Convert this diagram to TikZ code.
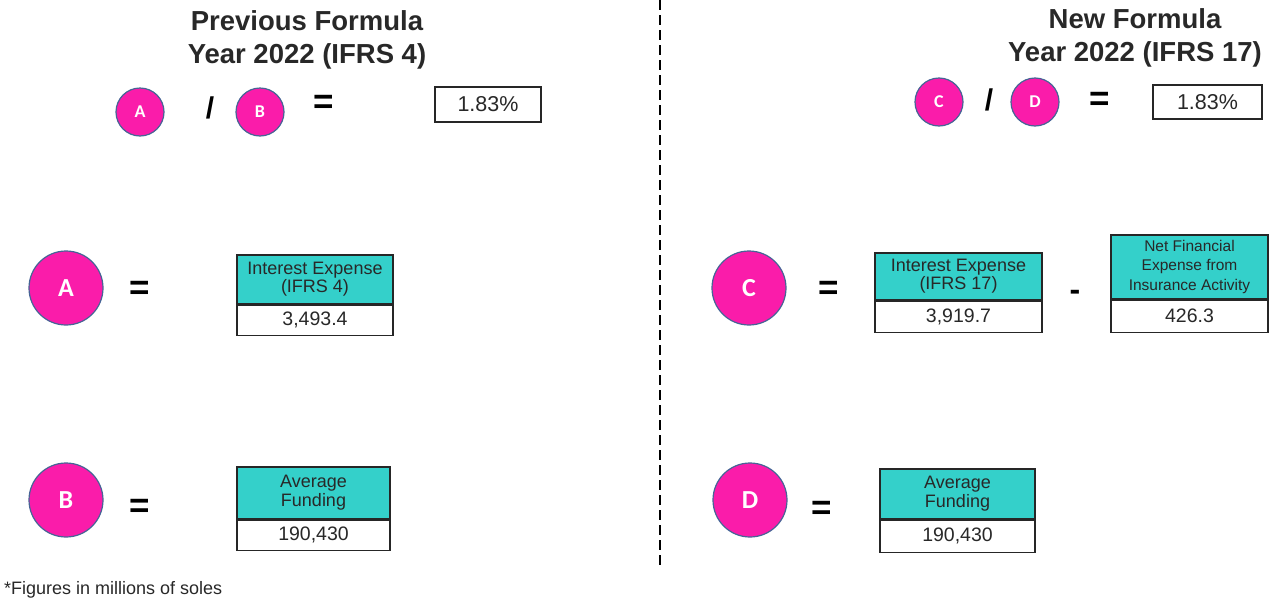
\documentclass[tikz,border=0pt]{standalone}
\usepackage{fontspec}
\setmainfont{Liberation Sans}
\newfontfamily\carl{Carlito}
\definecolor{pinkc}{RGB}{250,28,170}
\definecolor{bordc}{RGB}{70,100,150}
\definecolor{tealc}{RGB}{52,208,202}
\definecolor{txtc}{RGB}{40,40,40}
\tikzset{
  circbase/.style={circle, fill=pinkc, draw=bordc, line width=1.2pt, text=white, inner sep=0pt},
  bigc/.style={circbase, minimum size=74pt, font=\carl\bfseries\fontsize{26}{28}\selectfont},
  smallc/.style={circbase, minimum size=48pt, font=\carl\bfseries\fontsize{18}{20}\selectfont},
  eqsign/.style={font=\bfseries\fontsize{35}{36}\selectfont, inner sep=0pt},
  slash/.style={font=\bfseries\fontsize{30}{32}\selectfont, inner sep=0pt},
  title/.style={font=\bfseries\fontsize{27.5}{33}\selectfont, align=center, text=txtc},
  hdr/.style={rectangle, fill=tealc, draw=black!85, line width=1.5pt, align=center, inner sep=0pt, text=txtc, anchor=north},
  val/.style={rectangle, fill=white, draw=black!85, line width=1.5pt, inner sep=0pt, text=txtc, anchor=north, font=\fontsize{19.5}{21}\selectfont},
  pct/.style={rectangle, draw=black!85, line width=1.3pt, inner sep=0pt, text=txtc, font=\fontsize{21.5}{23}\selectfont},
}
\begin{document}
\begin{tikzpicture}[x=1pt,y=-1pt]
\useasboundingbox (0,0) rectangle (1270,600);
\fill[white] (0,0) rectangle (1270,600);
% divider
\coordinate (dtop) at (660,0);
\coordinate (dbot) at (660,565);
\draw[line width=2pt, dash pattern=on 10pt off 5pt] (dtop) -- (dbot);

% ---- left side
\node[title] (tl) at (307,40) {Previous Formula\\Year 2022 (IFRS 4)};
\node[smallc] (sa) at (140,112) {A};
\node[slash] (sl1) at (210,108) {/};
\node[smallc] (sb) at (260,112) {B};
\node[eqsign] (e1) at (324,104) {=};
\node[pct, minimum width=106pt, minimum height=35pt] (p1) at (488,104.5) {1.83\%};

\node[bigc] (ba) at (66,288) {A};
\node[eqsign] (e2) at (140,290) {=};
\node[hdr, minimum width=156pt, minimum height=49pt, font=\fontsize{18}{18}\selectfont] (ha) at (315,254) {Interest Expense\\(IFRS 4)};
\node[val, minimum width=156pt, minimum height=30pt] (va) at (ha.south) {3,493.4};

\node[bigc] (bb) at (66,500) {B};
\node[eqsign] (e3) at (140,508) {=};
\node[hdr, minimum width=153pt, minimum height=52pt, font=\fontsize{18}{19.5}\selectfont] (hb) at (313.5,466) {Average\\Funding};
\node[val, minimum width=153pt, minimum height=30pt] (vb) at (hb.south) {190,430};

\node[anchor=west, inner sep=0pt, text=txtc, font=\fontsize{18}{20}\selectfont] (fn) at (4,590) {*Figures in millions of soles};

% ---- right side
\node[title] (tr) at (1135,38) {New Formula\\Year 2022 (IFRS 17)};
\node[smallc] (sc) at (939,102) {C};
\node[slash] (sl2) at (989,100) {/};
\node[smallc] (sd) at (1035,102) {D};
\node[eqsign] (e4) at (1100,101) {=};
\node[pct, minimum width=109pt, minimum height=34pt] (p2) at (1207.5,102) {1.83\%};

\node[bigc] (bc) at (749,288) {C};
\node[eqsign] (e5) at (829,290) {=};
\node[hdr, minimum width=167pt, minimum height=47pt, font=\fontsize{18}{18}\selectfont] (hc) at (958.5,252) {Interest Expense\\(IFRS 17)};
\node[val, minimum width=167pt, minimum height=31pt] (vc) at (hc.south) {3,919.7};
\node[font=\bfseries\fontsize{32}{34}\selectfont, inner sep=0pt] (mi) at (1075,295) {-};
\node[hdr, minimum width=157pt, minimum height=64pt, font=\fontsize{15.5}{19.5}\selectfont] (hn) at (1189.5,234) {Net Financial\\Expense from\\Insurance Activity};
\node[val, minimum width=157pt, minimum height=32pt] (vn) at (hn.south) {426.3};

\node[bigc] (bd) at (750,500) {D};
\node[eqsign] (e6) at (822,510) {=};
\node[hdr, minimum width=155pt, minimum height=50pt, font=\fontsize{18}{19.5}\selectfont] (hd) at (957.5,468) {Average\\Funding};
\node[val, minimum width=155pt, minimum height=32pt] (vd) at (hd.south) {190,430};
\end{tikzpicture}
\end{document}
